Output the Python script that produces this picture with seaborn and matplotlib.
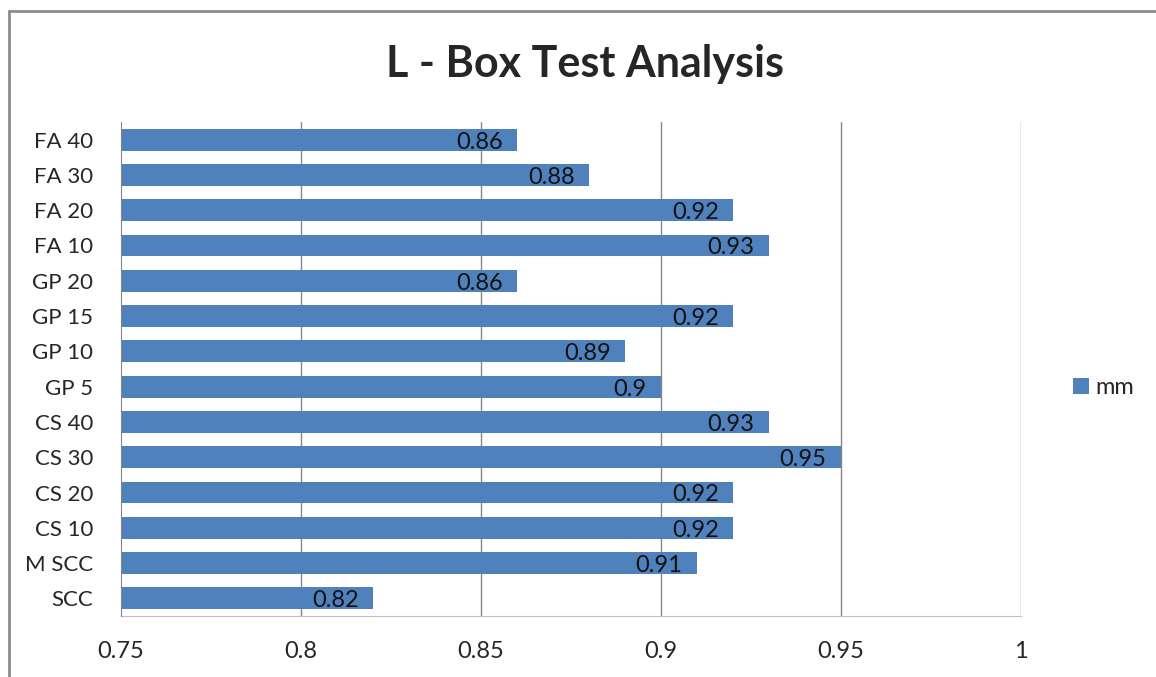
import matplotlib.pyplot as plt
import seaborn as sns
import pandas as pd
from matplotlib.patches import Rectangle, Patch

# data (top to bottom as shown)
mixes = ['FA 40', 'FA 30', 'FA 20', 'FA 10', 'GP 20', 'GP 15', 'GP 10', 'GP 5',
         'CS 40', 'CS 30', 'CS 20', 'CS 10', 'M SCC', 'SCC']
mm = [0.86, 0.88, 0.92, 0.93, 0.86, 0.92, 0.89, 0.9,
      0.93, 0.95, 0.92, 0.92, 0.91, 0.82]
x_ticks = [0.75, 0.8, 0.85, 0.9, 0.95, 1]
x_tick_labels = ['0.75', '0.8', '0.85', '0.9', '0.95', '1']

df = pd.DataFrame({'mix': mixes, 'mm': mm})

sns.set_style('white')
plt.rcParams['font.family'] = ['Lato', 'DejaVu Sans']

bar_color = '#4F81BD'
grid_color = '#868686'

fig = plt.figure(figsize=(11.56, 6.77), dpi=100)
ax = fig.add_axes([0.1047, 0.0901, 0.7785, 0.7297])

sns.barplot(data=df, x='mm', y='mix', orient='h', color=bar_color,
            width=0.62, saturation=1, linewidth=0, ax=ax, zorder=2)

ax.set_xlim(0.75, 1)
ax.set_ylim(len(mixes) - 0.5, -0.5)
ax.set_xticks(x_ticks)
ax.set_xticklabels(x_tick_labels, fontsize=17)
ax.tick_params(axis='y', labelsize=16, length=0, pad=20)
ax.tick_params(axis='x', length=0, pad=18)
ax.set_xlabel('')
ax.set_ylabel('')

# vertical gridlines like excel
for t in x_ticks[1:]:
    ax.axvline(t, color=grid_color, lw=1, zorder=0)

for s in ['top', 'right']:
    ax.spines[s].set_visible(False)
ax.spines['left'].set_color(grid_color)
ax.spines['left'].set_zorder(3)
ax.spines['bottom'].set_color('#BFBFBF')

# value labels at bar ends
for i, v in enumerate(mm):
    ax.text(v - 0.004, i + 0.07, f'{v:g}', ha='right', va='center',
            fontsize=17, color='#111111', zorder=4)

fig.text(0.506, 0.905, 'L - Box Test Analysis', ha='center', va='center',
         fontsize=31, fontweight='bold')

handles = [Patch(facecolor=bar_color, edgecolor='none')]
fig.legend(handles, ['mm'], loc='center left', bbox_to_anchor=(0.91, 0.427),
           frameon=False, fontsize=17, handlelength=0.65, handleheight=0.65,
           handletextpad=0.3)

# chart area border (cut off at right / bottom)
fig.patches.append(Rectangle((9 / 1156, -0.1), 1.2, 1 - 11 / 677 + 0.1,
                             transform=fig.transFigure, fill=False,
                             edgecolor='#8C8C8C', lw=2))

fig.savefig('out.png', dpi=100)
